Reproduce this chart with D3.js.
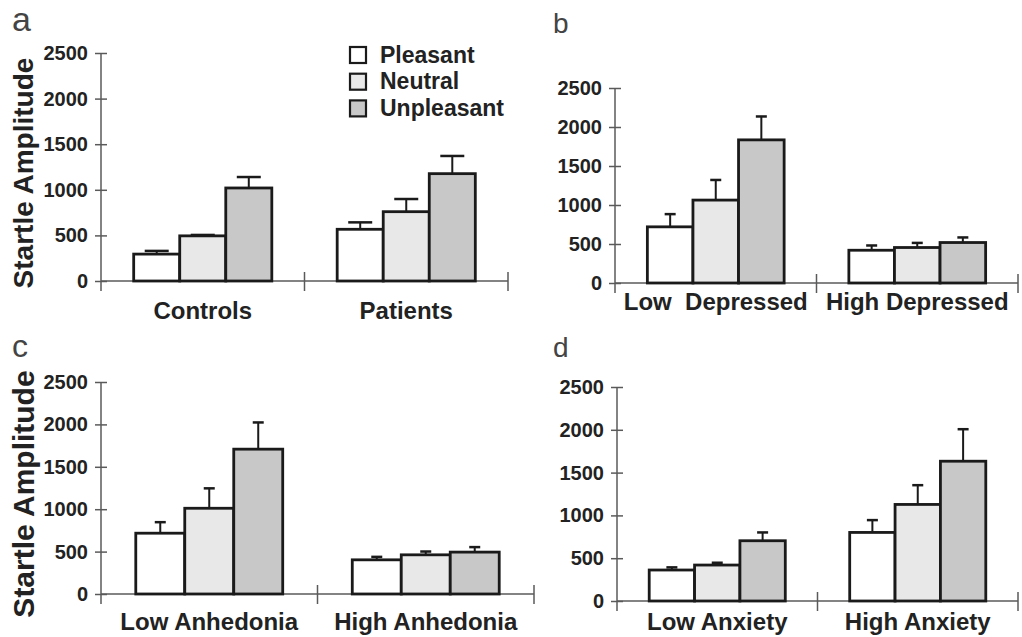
<!DOCTYPE html>
<html>
<head>
<meta charset="utf-8">
<script src="https://cdn.jsdelivr.net/npm/d3@7"></script>
<style>
  html, body { margin: 0; padding: 0; background: #fff; }
  svg { display: block; }
  text { font-family: "Liberation Sans", Arial, Helvetica, sans-serif; }
</style>
</head>
<body>
<svg id="chart" width="1022" height="637"></svg>
<script>
// Conditions (series) shared by all four panels
const conditions = ["Pleasant", "Neutral", "Unpleasant"];
const yTicks = [0, 500, 1000, 1500, 2000, 2500];

// Panel a: controls vs patients
const groupsA = ["Controls", "Patients"];
const meansA  = [[295, 495, 1020], [567, 760, 1177]];
const semA    = [[35, 10, 120], [76, 139, 194]];

// Panel b: depression split
const groupsB = ["Low  Depressed", "High Depressed"];
const meansB  = [[720, 1063, 1835], [420, 455, 519]];
const semB    = [[163, 258, 300], [61, 59, 65]];

// Panel c: anhedonia split
const groupsC = ["Low Anhedonia", "High Anhedonia"];
const meansC  = [[717, 1011, 1708], [403, 462, 494]];
const semC    = [[130, 235, 315], [35, 39, 59]];

// Panel d: anxiety split
const groupsD = ["Low Anxiety", "High Anxiety"];
const meansD  = [[362, 420, 704], [801, 1128, 1633]];
const semD    = [[31, 27, 97], [144, 225, 374]];

const fills = d3.scaleOrdinal().domain(conditions).range(["#ffffff", "#e8e8e8", "#c8c8c8"]);

// Frame of each panel on the page
const panels = [
  { letter: "a", groups: groupsA, means: meansA, sem: semA,
    x0: 101, x1: 508, yTop: 53, yZero: 281, capW: 24,
    letterX: 12, letterY: 31, letterSize: 34,
    tickSize: 20, labelSize: 24, labelY: 319,
    title: { x: 33, size: 28 }, legend: true },
  { letter: "b", groups: groupsB, means: meansB, sem: semB,
    x0: 615, x1: 1018, yTop: 88, yZero: 283, capW: 11,
    letterX: 553, letterY: 33, letterSize: 28,
    tickSize: 20, labelSize: 24, labelY: 310 },
  { letter: "c", groups: groupsC, means: meansC, sem: semC,
    x0: 101, x1: 534, yTop: 382, yZero: 594, capW: 11,
    letterX: 12, letterY: 357, letterSize: 32,
    tickSize: 20, labelSize: 24, labelY: 630,
    title: { x: 34, size: 30 } },
  { letter: "d", groups: groupsD, means: meansD, sem: semD,
    x0: 617, x1: 1018, yTop: 387, yZero: 601, capW: 11,
    letterX: 553, letterY: 357, letterSize: 28,
    tickSize: 20, labelSize: 24, labelY: 630 }
];

const svg = d3.select("#chart");
const ink = "#1a1a1a";
const axisInk = "#5a5a5a";
const textInk = "#222";

panels.forEach(p => {
  const g = svg.append("g");

  const y = d3.scaleLinear().domain([0, 2500]).range([p.yZero, p.yTop]);
  const xg = d3.scaleBand().domain(p.groups).range([p.x0, p.x1]).padding(0);
  const xc = d3.scaleBand().domain(conditions).range([0, xg.bandwidth()])
    .paddingInner(0).paddingOuter(0.71);

  // y axis with ticks crossing the line
  const yAxis = g.append("g")
    .attr("transform", `translate(${p.x0},0)`)
    .call(d3.axisLeft(y).tickValues(yTicks).tickFormat(d3.format("d"))
      .tickSizeInner(6).tickSizeOuter(0).tickPadding(7));
  yAxis.attr("font-family", null);
  yAxis.select(".domain").remove();
  yAxis.selectAll(".tick line").attr("x1", -6).attr("x2", 6)
    .attr("stroke", axisInk).attr("stroke-width", 1.5);
  yAxis.selectAll(".tick text")
    .style("font-weight", "bold")
    .style("font-size", p.tickSize + "px")
    .attr("fill", textInk);
  g.append("line")
    .attr("x1", p.x0).attr("x2", p.x0)
    .attr("y1", y(2500)).attr("y2", y(0) + 10)
    .attr("stroke", axisInk).attr("stroke-width", 1.5);

  // x axis baseline and group dividers
  g.append("line")
    .attr("x1", p.x0).attr("x2", p.x1)
    .attr("y1", y(0)).attr("y2", y(0))
    .attr("stroke", axisInk).attr("stroke-width", 1.5);
  g.selectAll("line.divider").data(p.groups).join("line")
    .attr("class", "divider")
    .attr("x1", d => xg(d) + xg.bandwidth()).attr("x2", d => xg(d) + xg.bandwidth())
    .attr("y1", y(0) - 9).attr("y2", y(0) + 10)
    .attr("stroke", axisInk).attr("stroke-width", 1.5);

  // group labels
  g.selectAll("text.group").data(p.groups).join("text")
    .attr("class", "group")
    .attr("x", d => xg(d) + xg.bandwidth() / 2)
    .attr("y", p.labelY)
    .attr("text-anchor", "middle")
    .style("font-size", p.labelSize + "px")
    .style("font-weight", "bold")
    .attr("fill", textInk)
    .style("white-space", "pre")
    .text(d => d);

  // bars and error bars
  p.groups.forEach((grp, gi) => {
    const rows = conditions.map((c, ci) => ({ c, v: p.means[gi][ci], e: p.sem[gi][ci] }));
    const gg = g.append("g").attr("transform", `translate(${xg(grp)},0)`);

    gg.selectAll("line.err").data(rows).join("line")
      .attr("class", "err")
      .attr("x1", d => xc(d.c) + xc.bandwidth() / 2)
      .attr("x2", d => xc(d.c) + xc.bandwidth() / 2)
      .attr("y1", d => y(d.v)).attr("y2", d => y(d.v + d.e))
      .attr("stroke", ink).attr("stroke-width", 2);
    gg.selectAll("line.cap").data(rows).join("line")
      .attr("class", "cap")
      .attr("x1", d => xc(d.c) + xc.bandwidth() / 2 - p.capW / 2)
      .attr("x2", d => xc(d.c) + xc.bandwidth() / 2 + p.capW / 2)
      .attr("y1", d => y(d.v + d.e)).attr("y2", d => y(d.v + d.e))
      .attr("stroke", ink).attr("stroke-width", 2.5);

    gg.selectAll("rect").data(rows).join("rect")
      .attr("x", d => xc(d.c))
      .attr("width", xc.bandwidth())
      .attr("y", d => y(d.v))
      .attr("height", d => y(0) - y(d.v))
      .attr("fill", d => fills(d.c))
      .attr("stroke", ink).attr("stroke-width", 2.8);
  });

  // panel letter
  svg.append("text")
    .attr("x", p.letterX).attr("y", p.letterY)
    .style("font-size", p.letterSize + "px")
    .attr("fill", "#444")
    .text(p.letter);

  // y-axis title
  if (p.title) {
    svg.append("text")
      .attr("transform", `translate(${p.title.x},${(y(2500) + y(0)) / 2 + 6}) rotate(-90)`)
      .attr("text-anchor", "middle")
      .style("font-size", p.title.size + "px")
      .style("font-weight", "bold")
      .attr("fill", textInk)
      .text("Startle Amplitude");
  }

  // legend
  if (p.legend) {
    const lg = svg.append("g").attr("transform", "translate(350,47)");
    const row = lg.selectAll("g").data(conditions).join("g")
      .attr("transform", (d, i) => `translate(0,${i * 26.7})`);
    row.append("rect")
      .attr("width", 16).attr("height", 16)
      .attr("fill", d => fills(d))
      .attr("stroke", ink).attr("stroke-width", 2.2);
    row.append("text")
      .attr("x", 30).attr("y", 15.5)
      .style("font-size", "23px")
      .style("font-weight", "bold")
      .attr("fill", textInk)
      .text(d => d);
  }
});
</script>
</body>
</html>
